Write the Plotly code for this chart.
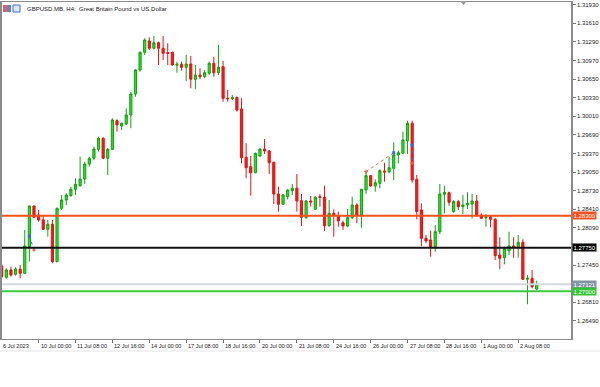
import pandas as pd
import plotly.graph_objects as go

# ---------------- data (GBPUSD.MB, H4) ----------------
opens = [1.27436, 1.27241, 1.27367, 1.27293, 1.27379, 1.27310, 1.27768, 1.28468, 1.28313, 1.28227,
         1.28067, 1.28153, 1.27510, 1.28428, 1.28571, 1.28645, 1.28755, 1.28817, 1.28932, 1.29190,
         1.29288, 1.29443, 1.29632, 1.29288, 1.29443, 1.29935, 1.29844, 1.29878, 1.30033, 1.30394,
         1.30807, 1.31111, 1.31306, 1.31180, 1.31276, 1.31180, 1.31104, 1.31111, 1.30888, 1.30905,
         1.30853, 1.30910, 1.30647, 1.30721, 1.30692, 1.30750, 1.30922, 1.30760, 1.30864, 1.30320,
         1.30313, 1.30337, 1.30136, 1.29305, 1.29144, 1.29040, 1.29328, 1.29448, 1.29414, 1.29219,
         1.28674, 1.28497, 1.28628, 1.28731, 1.28772, 1.28559, 1.28266, 1.28554, 1.28411, 1.28628,
         1.28617, 1.28129, 1.28342, 1.28301, 1.28180, 1.28124, 1.28266, 1.28485, 1.28313, 1.28743,
         1.28989, 1.28812, 1.28858, 1.29070, 1.29058, 1.29116, 1.29345, 1.29374, 1.29586, 1.29890,
         1.28927, 1.28399, 1.27912, 1.27883, 1.27768, 1.28026, 1.28669, 1.28696, 1.28370, 1.28542,
         1.28456, 1.28485, 1.28502, 1.28554, 1.28313, 1.28266, 1.28284, 1.28239, 1.27625, 1.27578,
         1.27699, 1.27780, 1.27757, 1.27843, 1.27207, 1.27224, 1.27040]
highs = [1.27470, 1.27396, 1.27424, 1.27413, 1.27453, 1.28055, 1.28475, 1.28475, 1.28399, 1.28313,
         1.28227, 1.28227, 1.28440, 1.28657, 1.28686, 1.28800, 1.28944, 1.29316, 1.29230, 1.29316,
         1.29488, 1.29660, 1.29649, 1.29465, 1.29976, 1.29959, 1.29900, 1.30148, 1.30428, 1.30819,
         1.31122, 1.31352, 1.31369, 1.31392, 1.31294, 1.31392, 1.31266, 1.31122, 1.30950, 1.30950,
         1.31065, 1.31048, 1.30893, 1.30836, 1.30807, 1.30950, 1.31036, 1.31237, 1.30962, 1.30463,
         1.30377, 1.30348, 1.30320, 1.29546, 1.29328, 1.29384, 1.29460, 1.29620, 1.29431, 1.29230,
         1.28800, 1.28674, 1.28755, 1.28846, 1.29018, 1.28674, 1.28571, 1.28640, 1.28640, 1.28674,
         1.28817, 1.28571, 1.28411, 1.28370, 1.28215, 1.28416, 1.28628, 1.28514, 1.28760, 1.29058,
         1.29001, 1.28927, 1.29099, 1.29212, 1.29316, 1.29563, 1.29419, 1.29746, 1.29935, 1.29935,
         1.29001, 1.28514, 1.27969, 1.28043, 1.28141, 1.28846, 1.28817, 1.28714, 1.28571, 1.28571,
         1.28657, 1.28703, 1.28674, 1.28657, 1.28342, 1.28330, 1.28313, 1.28256, 1.27929, 1.27768,
         1.28026, 1.27929, 1.27969, 1.27895, 1.27281, 1.27367, 1.27183]
lows = [1.27229, 1.27217, 1.27252, 1.27269, 1.27224, 1.27298, 1.27510, 1.28256, 1.28198, 1.28055,
        1.27940, 1.27482, 1.27500, 1.28399, 1.28485, 1.28628, 1.28657, 1.28800, 1.28846, 1.29144,
        1.29259, 1.29402, 1.29271, 1.29001, 1.29431, 1.29746, 1.29775, 1.29861, 1.29804, 1.30348,
        1.30778, 1.31065, 1.31151, 1.31163, 1.30893, 1.30979, 1.30893, 1.30880, 1.30760, 1.30795,
        1.30618, 1.30492, 1.30475, 1.30647, 1.30664, 1.30721, 1.30692, 1.30721, 1.30262, 1.30262,
        1.30291, 1.30090, 1.29202, 1.28944, 1.28645, 1.29030, 1.29316, 1.29362, 1.29018, 1.28502,
        1.28370, 1.28485, 1.28583, 1.28657, 1.28370, 1.28124, 1.28249, 1.28456, 1.28399, 1.28456,
        1.28038, 1.28112, 1.27940, 1.28112, 1.28055, 1.28101, 1.28244, 1.28170, 1.28094, 1.28674,
        1.28800, 1.28714, 1.28772, 1.28886, 1.29030, 1.28915, 1.29202, 1.29362, 1.29362, 1.28868,
        1.28239, 1.27780, 1.27826, 1.27596, 1.27682, 1.27986, 1.28342, 1.28473, 1.28352, 1.28399,
        1.28330, 1.28416, 1.28256, 1.28284, 1.28244, 1.28112, 1.28101, 1.27539, 1.27379, 1.27465,
        1.27625, 1.27578, 1.27578, 1.27195, 1.26777, 1.27052, 1.27023]
closes = [1.27252, 1.27367, 1.27281, 1.27384, 1.27310, 1.27780, 1.28468, 1.28273, 1.28227, 1.28067,
          1.28153, 1.27510, 1.28428, 1.28571, 1.28657, 1.28755, 1.28841, 1.28932, 1.29190, 1.29288,
          1.29448, 1.29632, 1.29288, 1.29443, 1.29947, 1.29861, 1.29890, 1.30033, 1.30394, 1.30807,
          1.31111, 1.31323, 1.31180, 1.31276, 1.31180, 1.31094, 1.31094, 1.30893, 1.30905, 1.30853,
          1.30910, 1.30647, 1.30721, 1.30692, 1.30760, 1.30922, 1.30760, 1.30853, 1.30320, 1.30313,
          1.30330, 1.30119, 1.29298, 1.29126, 1.29040, 1.29374, 1.29448, 1.29414, 1.29212, 1.28674,
          1.28497, 1.28657, 1.28743, 1.28772, 1.28554, 1.28273, 1.28554, 1.28536, 1.28617, 1.28617,
          1.28129, 1.28342, 1.28301, 1.28210, 1.28124, 1.28266, 1.28485, 1.28313, 1.28755, 1.28989,
          1.28812, 1.28868, 1.29075, 1.29052, 1.29126, 1.29345, 1.29384, 1.29603, 1.29890, 1.28915,
          1.28370, 1.27912, 1.27866, 1.27757, 1.28026, 1.28674, 1.28703, 1.28531, 1.28542, 1.28456,
          1.28485, 1.28514, 1.28554, 1.28313, 1.28256, 1.28284, 1.28239, 1.27613, 1.27568, 1.27740,
          1.27780, 1.27757, 1.27843, 1.27207, 1.27224, 1.27080, 1.27121]

first_bar = "2023-07-06 16:00"

x_tick_times = ["2023-07-10 00:00", "2023-07-11 08:00", "2023-07-12 16:00", "2023-07-14 00:00",
                "2023-07-17 08:00", "2023-07-18 16:00", "2023-07-20 00:00", "2023-07-21 08:00",
                "2023-07-24 16:00", "2023-07-26 00:00", "2023-07-27 08:00", "2023-07-28 16:00",
                "2023-08-01 00:00", "2023-08-02 08:00"]
x_tick_text = ["10 Jul 00:00", "11 Jul 08:00", "12 Jul 16:00", "14 Jul 00:00", "17 Jul 08:00",
               "18 Jul 16:00", "20 Jul 00:00", "21 Jul 08:00", "24 Jul 16:00", "26 Jul 00:00",
               "27 Jul 08:00", "28 Jul 16:00", "1 Aug 00:00", "2 Aug 08:00"]
first_label = "6 Jul 2023"

y_ticks = [1.31930, 1.31610, 1.31290, 1.30970, 1.30650, 1.30330, 1.30010, 1.29690, 1.29370,
           1.29050, 1.28730, 1.28410, 1.28090, 1.27450, 1.26810, 1.26490]

# horizontal levels: (price, line colour, label bg)
level_prices = [1.28300, 1.27750, 1.27121, 1.27000]
level_line_colors = ["#f4511e", "#111111", "#d3d9df", "#3cc83c"]
level_label_bg = ["#f4511e", "#000000", "#8393a5", "#33c233"]

# trade history markers: (bar, price) pairs
trade_in_times = ["2023-07-07 16:00", "2023-07-25 20:00", "2023-07-27 12:00"]
trade_in_prices = [1.27952, 1.29058, 1.29517]
trade_out_times = ["2023-07-07 20:00", "2023-07-26 20:00", "2023-07-27 12:00"]
trade_out_prices = [1.27711, 1.29384, 1.29202]

# ---------------- H4 time axis (weekdays only) ----------------
times = []
t = pd.Timestamp(first_bar)
while len(times) < len(opens):
    if t.weekday() < 5:
        times.append(t.strftime("%Y-%m-%d %H:%M"))
    t += pd.Timedelta(hours=4)

W, H = 600, 387
L, R, T, B = 2, 29, 2, 48
pw, ph = W - L - R, H - T - B


def px_x(p):
    return (p - L) / pw


def px_y(p):
    return (H - B - p) / ph


FONT = "Liberation Sans"

fig = go.Figure()
fig.add_trace(go.Candlestick(
    x=times, open=opens, high=highs, low=lows, close=closes,
    increasing=dict(line=dict(color="#12a012", width=1), fillcolor="#2ee02e"),
    decreasing=dict(line=dict(color="#e01515", width=1), fillcolor="#ee1c1c"),
    whiskerwidth=0, showlegend=False, hoverinfo="skip",
))

# trade markers
trade_colors = ["#2a6fdb", "#f06040", "#2a6fdb"]
for i in range(len(trade_in_times)):
    fig.add_trace(go.Scatter(
        x=[trade_in_times[i], trade_out_times[i]],
        y=[trade_in_prices[i], trade_out_prices[i]],
        mode="lines", line=dict(color=trade_colors[i], width=1, dash="dot"),
        showlegend=False, hoverinfo="skip"))
fig.add_trace(go.Scatter(x=trade_in_times, y=trade_in_prices, mode="markers",
                         marker=dict(symbol=["square", "cross", "square"], size=3,
                                     color=["#2a6fdb", "#f06040", "#2a6fdb"]),
                         showlegend=False, hoverinfo="skip"))
fig.add_trace(go.Scatter(x=trade_out_times, y=trade_out_prices, mode="markers",
                         marker=dict(symbol=["cross", "square", "cross"], size=3,
                                     color=["#f06040", "#2a6fdb", "#f06040"]),
                         showlegend=False, hoverinfo="skip"))

shapes = []
for p, c in zip(level_prices, level_line_colors):
    shapes.append(dict(type="line", xref="paper", yref="y", x0=0, x1=1, y0=p, y1=p,
                       line=dict(color=c, width=2), layer="above"))
# separator under the time axis
shapes.append(dict(type="line", xref="paper", yref="paper", x0=px_x(0), x1=px_x(600),
                   y0=px_y(351), y1=px_y(351), line=dict(color="#e4e4e4", width=1)))
# chart-shift triangle
tx0, tx1, ty0, ty1 = px_x(460), px_x(467), px_y(1), px_y(5)
shapes.append(dict(type="path", xref="paper", yref="paper",
                   path=f"M {tx0} {ty0} L {tx1} {ty0} L {(tx0 + tx1) / 2} {ty1} Z",
                   fillcolor="#9a9a9a", line=dict(width=0)))
# title icons
shapes.append(dict(type="rect", xref="paper", yref="paper", x0=px_x(3), x1=px_x(7),
                   y0=px_y(12), y1=px_y(5), fillcolor="#e06060", line=dict(width=0)))
shapes.append(dict(type="rect", xref="paper", yref="paper", x0=px_x(7), x1=px_x(11),
                   y0=px_y(12), y1=px_y(5), fillcolor="#5c85d6", line=dict(width=0)))
shapes.append(dict(type="rect", xref="paper", yref="paper", x0=px_x(13), x1=px_x(20),
                   y0=px_y(12), y1=px_y(5), fillcolor="#dce8fb",
                   line=dict(color="#3f6fd0", width=1)))

annotations = []
annotations.append(dict(text="GBPUSD.MB, H4:  Great Britain Pound vs US Dollar",
                        xref="paper", yref="paper", x=px_x(25), y=px_y(8.5),
                        xanchor="left", yanchor="middle", showarrow=False,
                        font=dict(family=FONT, size=6, color="#222")))
# level labels on the price axis
for p, bg in zip(level_prices, level_label_bg):
    annotations.append(dict(text=f"{p:.5f}", xref="paper", yref="y", x=1, y=p,
                            xanchor="left", yanchor="middle", xshift=1, showarrow=False,
                            bgcolor=bg, borderpad=0.5,
                            font=dict(family=FONT, size=6, color="#ffffff")))
# time labels, left aligned next to their tick
annotations.append(dict(text=first_label, xref="paper", yref="paper", x=px_x(1), y=px_y(341),
                        xanchor="left", yanchor="top", showarrow=False,
                        font=dict(family=FONT, size=5.6, color="#222")))
for tt, lab in zip(x_tick_times, x_tick_text):
    annotations.append(dict(text=lab, xref="x", yref="paper", x=tt, y=px_y(341),
                            xanchor="left", yanchor="top", xshift=0, showarrow=False,
                            font=dict(family=FONT, size=5.6, color="#222")))

n_vis0 = 0.065
n_vis1 = 123.44

fig.update_layout(
    width=W, height=H, autosize=False,
    margin=dict(l=L, r=R, t=T, b=B, pad=0, autoexpand=False),
    paper_bgcolor="#ffffff", plot_bgcolor="#ffffff",
    showlegend=False,
    boxgap=0.32,
    shapes=shapes, annotations=annotations,
    xaxis=dict(type="category", range=[n_vis0, n_vis1], rangeslider=dict(visible=False),
               showgrid=False, zeroline=False, tickvals=x_tick_times,
               ticktext=["" for _ in x_tick_times], ticks="outside", ticklen=3,
               tickcolor="#777", showline=True, linecolor="#8a8a8a", linewidth=1, mirror=True,
               automargin=False),
    yaxis=dict(range=[1.26180, 1.31976], side="right", showgrid=False, zeroline=False,
               tickvals=y_ticks, ticktext=[f"{v:.5f}" for v in y_ticks],
               ticks="outside", ticklen=3, tickcolor="#777",
               tickfont=dict(family=FONT, size=6, color="#222"),
               showline=True, linecolor="#8a8a8a", linewidth=1.5, mirror=True,
               automargin=False),
)

fig.write_html("out.html", config={"displayModeBar": False},
               post_script="document.body.style.margin='0';document.body.style.overflow='hidden';")
